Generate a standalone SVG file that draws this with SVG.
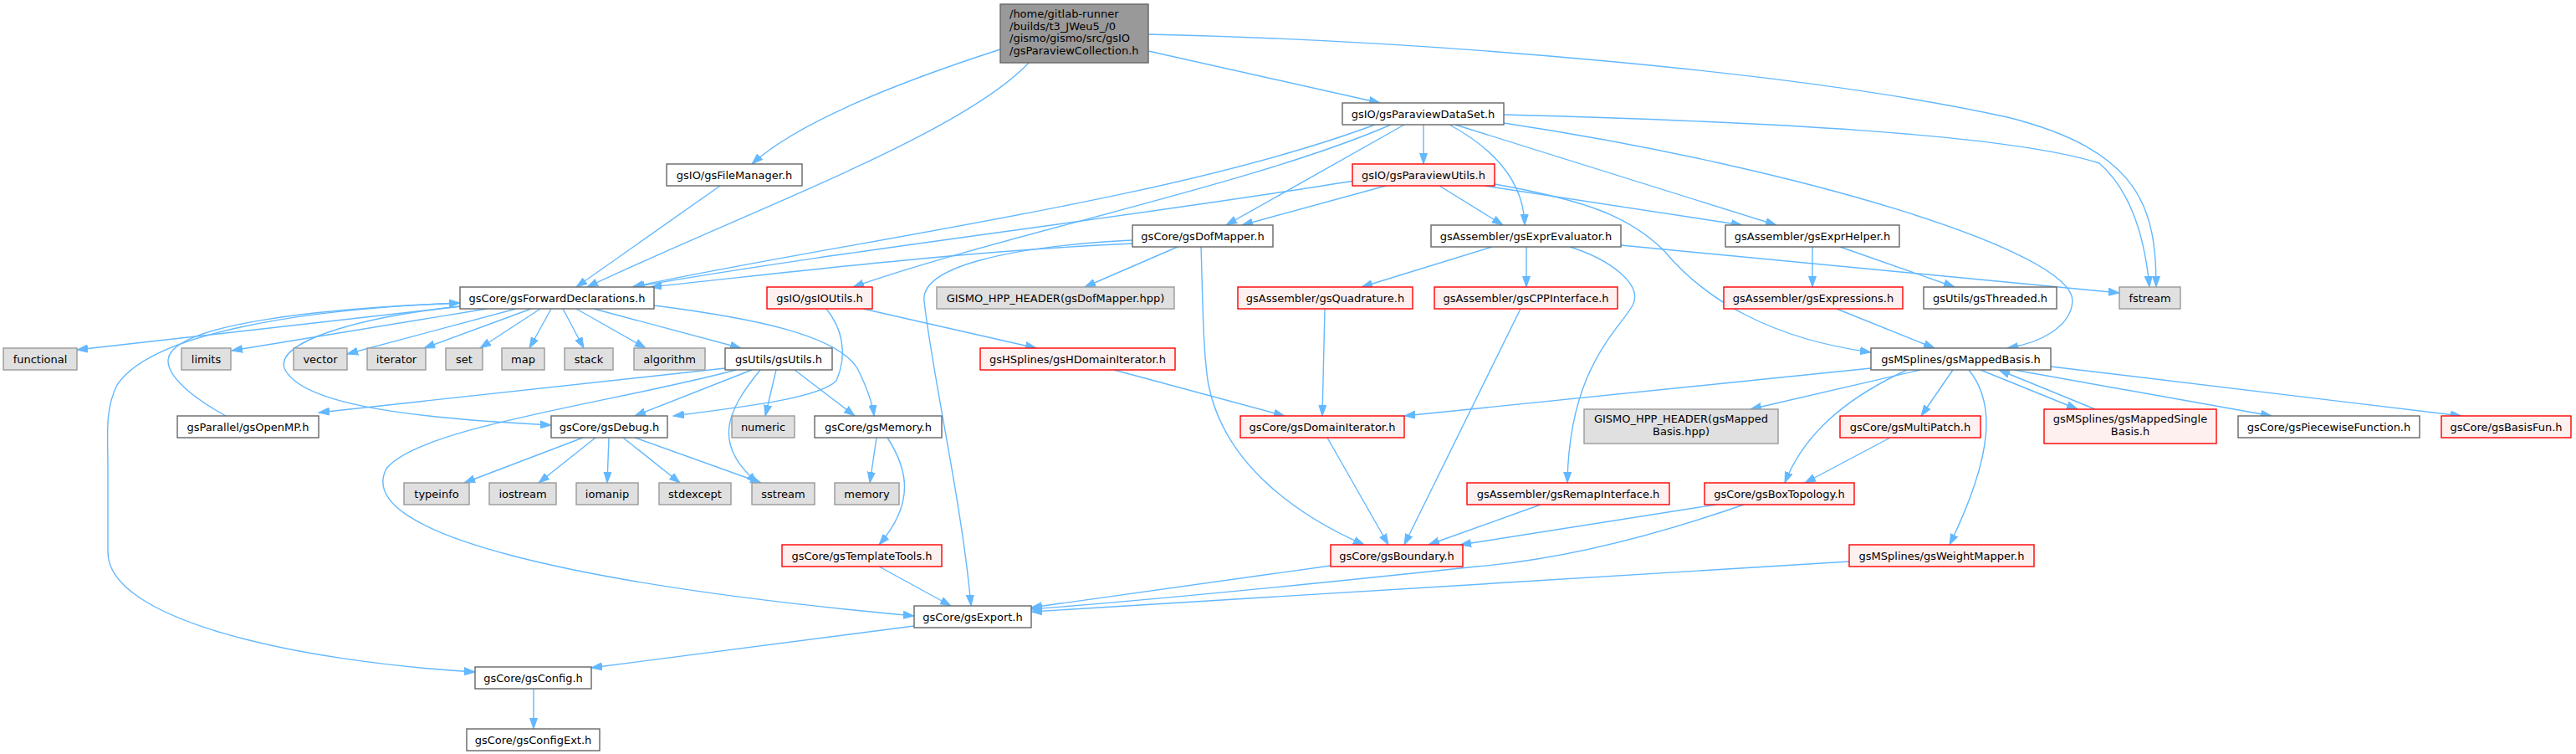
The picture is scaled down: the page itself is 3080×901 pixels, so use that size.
<svg xmlns="http://www.w3.org/2000/svg" width="3080" height="901" viewBox="0 0 3080 901">
<style>
rect{stroke-width:1.4}
.w rect{fill:#FFFFFF;stroke:#666666}
.r rect{fill:#FFF0F0;stroke:#FF0000}
.s rect{fill:#E0E0E0;stroke:#999999}
.root rect{fill:#999999;stroke:#666666}
text{font-family:"DejaVu Sans","Liberation Sans",sans-serif;font-size:13px;fill:#000000}
.c{text-anchor:middle}
#edges path{fill:none;stroke:#63B8FF;stroke-width:1.4;marker-end:url(#a)}
</style>
<defs>
<marker id="a" markerWidth="14" markerHeight="10" refX="13" refY="5" orient="auto" markerUnits="userSpaceOnUse">
<path d="M0,0.5 L13,5 L0,9.5 z" fill="#63B8FF" stroke="#63B8FF" stroke-width="1"/>
</marker>
</defs>
<rect x="0" y="0" width="3080" height="901" fill="#FFFFFF"/>
<g id="edges">
<path d="M1196,59 C1100,90 960,140 899,196"/>
<path d="M1230,75 C1150,160 900,250 702,343"/>
<path d="M1373,61 L1650,123"/>
<path d="M1373,41 C1700,48 2150,85 2400,140 C2560,180 2578,250 2578,343"/>
<path d="M1798,137 C2100,145 2400,160 2510,195 C2550,230 2565,290 2570,343"/>
<path d="M1702,149 L1702,196"/>
<path d="M1679,149 L1466,269"/>
<path d="M1644,149 C1400,240 1000,290 756,343"/>
<path d="M1663,149 C1500,220 1200,280 1020,343"/>
<path d="M1733,149 C1790,180 1822,220 1823,269"/>
<path d="M1740,149 L2124,269"/>
<path d="M1798,147 C2150,200 2480,300 2478,360 C2476,390 2440,410 2400,416"/>
<path d="M1619,216 C1350,260 1000,300 758,343"/>
<path d="M1657,222 L1485,269"/>
<path d="M1721,222 L1797,269"/>
<path d="M1775,222 L2083,269"/>
<path d="M1787,220 C1900,240 1950,260 1990,300 C2040,360 2120,405 2237,421"/>
<path d="M1354,291 C1150,300 950,325 778,343"/>
<path d="M1354,287 C1200,295 1100,320 1105,360 C1115,450 1150,600 1161,724"/>
<path d="M1408,295 L1297,343"/>
<path d="M1436,295 C1438,350 1438,420 1445,460 C1465,560 1560,620 1631,651"/>
<path d="M1784,295 L1628,343"/>
<path d="M1825,295 L1825,343"/>
<path d="M1938,293 L2534,350"/>
<path d="M1877,295 C1925,310 1965,340 1952,365 C1935,395 1876,440 1874,577"/>
<path d="M2167,295 L2167,343"/>
<path d="M2200,295 L2337,343"/>
<path d="M2196,369 L2313,416"/>
<path d="M1584,369 L1581,497"/>
<path d="M1818,369 L1679,651"/>
<path d="M1032,369 L1239,416"/>
<path d="M988,369 C1005,390 1015,420 1000,455 C980,475 900,485 805,497"/>
<path d="M1332,442 L1536,497"/>
<path d="M552,366 L92,418"/>
<path d="M582,369 L277,419"/>
<path d="M617,369 L415,423"/>
<path d="M635,369 L507,416"/>
<path d="M646,369 L574,416"/>
<path d="M659,369 L633,416"/>
<path d="M673,369 L698,416"/>
<path d="M689,369 L772,416"/>
<path d="M710,369 L886,416"/>
<path d="M550,362 C350,370 180,400 140,460 C125,490 129,520 129,560 L129,660 C129,740 350,790 568,803"/>
<path d="M270,497 C230,475 200,450 201,430 C205,385 400,368 550,362"/>
<path d="M550,366 C420,380 330,410 340,440 C360,485 500,500 659,508"/>
<path d="M782,365 C900,380 1000,400 1025,440 C1035,460 1043,480 1045,497"/>
<path d="M867,440 L381,493"/>
<path d="M880,442 C740,480 500,510 462,560 C420,640 700,700 1093,736"/>
<path d="M899,442 L759,497"/>
<path d="M928,442 L915,497"/>
<path d="M909,442 C870,490 850,530 906,577"/>
<path d="M950,442 L1022,497"/>
<path d="M697,523 L555,577"/>
<path d="M712,523 L644,577"/>
<path d="M728,523 L726,577"/>
<path d="M745,523 L813,577"/>
<path d="M759,523 L910,577"/>
<path d="M1048,523 L1040,577"/>
<path d="M1061,523 C1085,560 1095,600 1051,651"/>
<path d="M1051,677 L1137,724"/>
<path d="M1587,523 L1660,651"/>
<path d="M1842,603 L1708,651"/>
<path d="M2052,603 L1746,651"/>
<path d="M2085,603 C1950,650 1850,670 1765,677 C1550,700 1400,715 1233,728"/>
<path d="M1591,676 L1233,726"/>
<path d="M2211,671 L1233,731"/>
<path d="M2260,523 L2158,577"/>
<path d="M2237,440 L1679,497"/>
<path d="M2296,442 L2093,489"/>
<path d="M2280,442 C2220,470 2160,510 2134,577"/>
<path d="M2335,442 L2297,497"/>
<path d="M2354,442 C2385,480 2385,540 2331,651"/>
<path d="M2368,442 L2484,489"/>
<path d="M2505,489 L2390,442"/>
<path d="M2408,442 L2716,497"/>
<path d="M2452,438 L2943,497"/>
<path d="M1093,748 L707,798"/>
<path d="M638,823 L638,871"/>
<path d="M861,222 L689,343"/>
</g>
<g id="n_root" class="root"><rect x="1196" y="5" width="177" height="70"/>
<text x="1207" y="21">/home/gitlab-runner</text><text x="1207" y="35.5">/builds/t3_JWeu5_/0</text><text x="1207" y="50">/gismo/gismo/src/gsIO</text><text x="1207" y="64.5">/gsParaviewCollection.h</text></g>
<g id="n_dataset" class="w"><rect x="1605" y="123" width="193" height="26"/><text class="c" x="1701.5" y="140.5">gsIO/gsParaviewDataSet.h</text></g>
<g id="n_pvutils" class="r"><rect x="1617" y="196" width="170" height="26"/><text class="c" x="1702" y="213.5">gsIO/gsParaviewUtils.h</text></g>
<g id="n_filemgr" class="w"><rect x="797" y="196" width="162" height="26"/><text class="c" x="878" y="213.5">gsIO/gsFileManager.h</text></g>
<g id="n_dofmapper" class="w"><rect x="1354" y="269" width="168" height="26"/><text class="c" x="1438" y="286.5">gsCore/gsDofMapper.h</text></g>
<g id="n_exprevaluator" class="w"><rect x="1711" y="269" width="227" height="26"/><text class="c" x="1824.5" y="286.5">gsAssembler/gsExprEvaluator.h</text></g>
<g id="n_exprhelper" class="w"><rect x="2063" y="269" width="208" height="26"/><text class="c" x="2167" y="286.5">gsAssembler/gsExprHelper.h</text></g>
<g id="n_fwd" class="w"><rect x="550" y="343" width="232" height="26"/><text class="c" x="666" y="360.5">gsCore/gsForwardDeclarations.h</text></g>
<g id="n_ioutils" class="r"><rect x="917" y="343" width="126" height="26"/><text class="c" x="980" y="360.5">gsIO/gsIOUtils.h</text></g>
<g id="n_dofhpp" class="s"><rect x="1120" y="343" width="284" height="26"/><text class="c" x="1262" y="360.5">GISMO_HPP_HEADER(gsDofMapper.hpp)</text></g>
<g id="n_quadrature" class="r"><rect x="1480" y="343" width="209" height="26"/><text class="c" x="1584.5" y="360.5">gsAssembler/gsQuadrature.h</text></g>
<g id="n_cppinterface" class="r"><rect x="1715" y="343" width="219" height="26"/><text class="c" x="1824.5" y="360.5">gsAssembler/gsCPPInterface.h</text></g>
<g id="n_expressions" class="r"><rect x="2061" y="343" width="214" height="26"/><text class="c" x="2168" y="360.5">gsAssembler/gsExpressions.h</text></g>
<g id="n_threaded" class="w"><rect x="2300" y="343" width="159" height="26"/><text class="c" x="2379.5" y="360.5">gsUtils/gsThreaded.h</text></g>
<g id="n_fstream" class="s"><rect x="2534" y="343" width="73" height="26"/><text class="c" x="2570.5" y="360.5">fstream</text></g>
<g id="n_functional" class="s"><rect x="4" y="416" width="88" height="26"/><text class="c" x="48" y="433.5">functional</text></g>
<g id="n_limits" class="s"><rect x="217" y="416" width="59" height="26"/><text class="c" x="246.5" y="433.5">limits</text></g>
<g id="n_vector" class="s"><rect x="351" y="416" width="64" height="26"/><text class="c" x="383" y="433.5">vector</text></g>
<g id="n_iterator" class="s"><rect x="439" y="416" width="70" height="26"/><text class="c" x="474" y="433.5">iterator</text></g>
<g id="n_set" class="s"><rect x="533" y="416" width="44" height="26"/><text class="c" x="555" y="433.5">set</text></g>
<g id="n_map" class="s"><rect x="600" y="416" width="51" height="26"/><text class="c" x="625.5" y="433.5">map</text></g>
<g id="n_stack" class="s"><rect x="675" y="416" width="58" height="26"/><text class="c" x="704" y="433.5">stack</text></g>
<g id="n_algorithm" class="s"><rect x="758" y="416" width="85" height="26"/><text class="c" x="800.5" y="433.5">algorithm</text></g>
<g id="n_gsutils" class="w"><rect x="867" y="416" width="128" height="26"/><text class="c" x="931" y="433.5">gsUtils/gsUtils.h</text></g>
<g id="n_hdomiter" class="r"><rect x="1172" y="416" width="233" height="26"/><text class="c" x="1288.5" y="433.5">gsHSplines/gsHDomainIterator.h</text></g>
<g id="n_mappedbasis" class="w"><rect x="2237" y="416" width="215" height="26"/><text class="c" x="2344.5" y="433.5">gsMSplines/gsMappedBasis.h</text></g>
<g id="n_openmp" class="w"><rect x="212" y="497" width="169" height="26"/><text class="c" x="296.5" y="514.5">gsParallel/gsOpenMP.h</text></g>
<g id="n_debug" class="w"><rect x="659" y="497" width="139" height="26"/><text class="c" x="728.5" y="514.5">gsCore/gsDebug.h</text></g>
<g id="n_numeric" class="s"><rect x="875" y="497" width="75" height="26"/><text class="c" x="912.5" y="514.5">numeric</text></g>
<g id="n_gsmemory" class="w"><rect x="974" y="497" width="152" height="26"/><text class="c" x="1050" y="514.5">gsCore/gsMemory.h</text></g>
<g id="n_domiter" class="r"><rect x="1483" y="497" width="196" height="26"/><text class="c" x="1581" y="514.5">gsCore/gsDomainIterator.h</text></g>
<g id="n_mappedhpp" class="s"><rect x="1894" y="489" width="232" height="41"/><text class="c" x="2010" y="505">GISMO_HPP_HEADER(gsMapped</text><text class="c" x="2010" y="520">Basis.hpp)</text></g>
<g id="n_multipatch" class="r"><rect x="2200" y="497" width="168" height="26"/><text class="c" x="2284" y="514.5">gsCore/gsMultiPatch.h</text></g>
<g id="n_mappedsingle" class="r"><rect x="2444" y="489" width="206" height="41"/><text class="c" x="2547" y="505">gsMSplines/gsMappedSingle</text><text class="c" x="2547" y="520">Basis.h</text></g>
<g id="n_piecewise" class="w"><rect x="2676" y="497" width="217" height="26"/><text class="c" x="2784.5" y="514.5">gsCore/gsPiecewiseFunction.h</text></g>
<g id="n_basisfun" class="r"><rect x="2919" y="497" width="155" height="26"/><text class="c" x="2996.5" y="514.5">gsCore/gsBasisFun.h</text></g>
<g id="n_typeinfo" class="s"><rect x="483" y="577" width="78" height="26"/><text class="c" x="522" y="594.5">typeinfo</text></g>
<g id="n_iostream" class="s"><rect x="585" y="577" width="80" height="26"/><text class="c" x="625" y="594.5">iostream</text></g>
<g id="n_iomanip" class="s"><rect x="689" y="577" width="74" height="26"/><text class="c" x="726" y="594.5">iomanip</text></g>
<g id="n_stdexcept" class="s"><rect x="788" y="577" width="86" height="26"/><text class="c" x="831" y="594.5">stdexcept</text></g>
<g id="n_sstream" class="s"><rect x="899" y="577" width="75" height="26"/><text class="c" x="936.5" y="594.5">sstream</text></g>
<g id="n_memory" class="s"><rect x="998" y="577" width="77" height="26"/><text class="c" x="1036.5" y="594.5">memory</text></g>
<g id="n_remap" class="r"><rect x="1754" y="577" width="242" height="26"/><text class="c" x="1875" y="594.5">gsAssembler/gsRemapInterface.h</text></g>
<g id="n_boxtopology" class="r"><rect x="2038" y="577" width="179" height="26"/><text class="c" x="2127.5" y="594.5">gsCore/gsBoxTopology.h</text></g>
<g id="n_templatetools" class="r"><rect x="935" y="651" width="191" height="26"/><text class="c" x="1030.5" y="668.5">gsCore/gsTemplateTools.h</text></g>
<g id="n_boundary" class="r"><rect x="1591" y="651" width="158" height="26"/><text class="c" x="1670" y="668.5">gsCore/gsBoundary.h</text></g>
<g id="n_weightmapper" class="r"><rect x="2211" y="651" width="221" height="26"/><text class="c" x="2321.5" y="668.5">gsMSplines/gsWeightMapper.h</text></g>
<g id="n_export" class="w"><rect x="1093" y="724" width="140" height="26"/><text class="c" x="1163" y="741.5">gsCore/gsExport.h</text></g>
<g id="n_config" class="w"><rect x="568" y="797" width="139" height="26"/><text class="c" x="637.5" y="814.5">gsCore/gsConfig.h</text></g>
<g id="n_configext" class="w"><rect x="558" y="871" width="159" height="26"/><text class="c" x="637.5" y="888.5">gsCore/gsConfigExt.h</text></g>
</svg>
